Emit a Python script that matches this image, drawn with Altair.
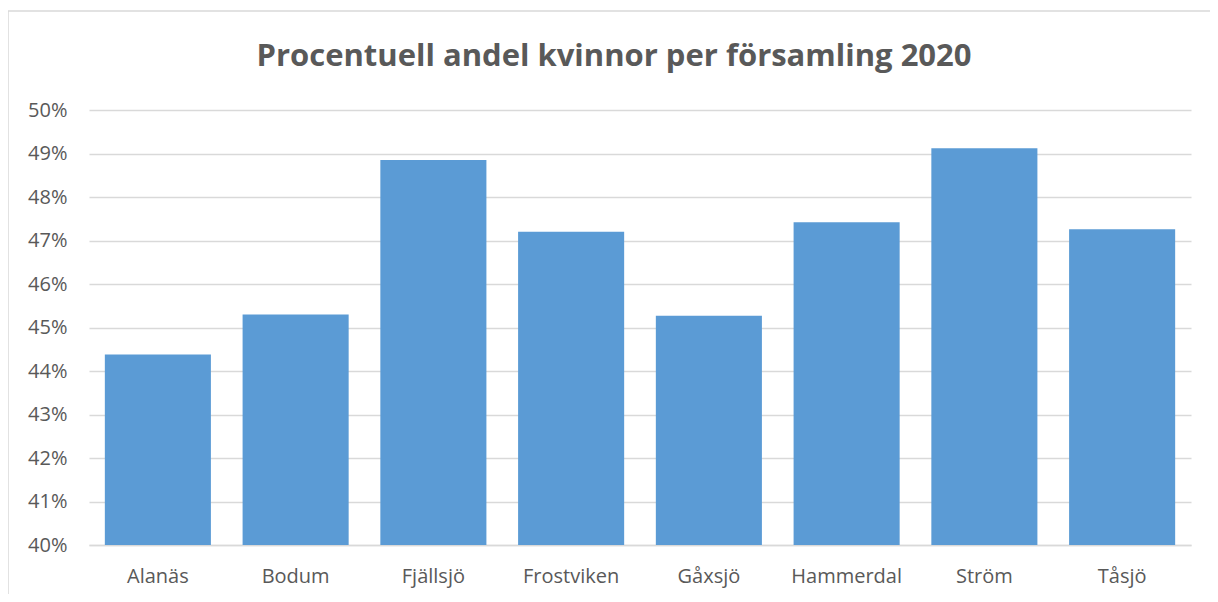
import altair as alt
import pandas as pd

categories = ["Alanäs", "Bodum", "Fjällsjö", "Frostviken", "Gåxsjö", "Hammerdal", "Ström", "Tåsjö"]
values = [0.4438, 0.4530, 0.4885, 0.4720, 0.4527, 0.4742, 0.4912, 0.4726]
tick_values = [0.40, 0.41, 0.42, 0.43, 0.44, 0.45, 0.46, 0.47, 0.48, 0.49, 0.50]
title_text = "Procentuell andel kvinnor per församling 2020"

df = pd.DataFrame({"Församling": categories, "Andel": values})

FONT = "Open Sans"
GREY = "#595959"

W, H = 1102, 435
LEFT, TOP = 81, 102
RIGHT = 1218 - 16 - LEFT - W
BOTTOM = 602 - 16 - TOP - H

bars = alt.Chart(df).mark_bar(color="#5b9bd5", clip=True).encode(
    x=alt.X("Församling:N", sort=categories, title=None,
            scale=alt.Scale(paddingInner=0.23, paddingOuter=0.115),
            axis=alt.Axis(labelAngle=0, labelFontSize=20, labelColor=GREY, labelFont=FONT,
                          domain=True, domainColor="#d9d9d9", domainWidth=1.5,
                          ticks=False, labelPadding=21)),
    y=alt.Y("Andel:Q", title=None,
            scale=alt.Scale(domain=[0.40, 0.50], nice=False, zero=False),
            axis=alt.Axis(values=tick_values, format=".0%", labelFontSize=20, labelColor=GREY,
                          labelFont=FONT, domain=False, ticks=False, labelPadding=22,
                          grid=True, gridColor="#d9d9d9", gridWidth=1.3)),
)

border = alt.Chart(pd.DataFrame({"a": [0]})).mark_rect(
    fill=None, stroke="#d9d9d9", strokeWidth=1.5
).encode(
    x=alt.value(-LEFT), x2=alt.value(1218 - 8 - LEFT + 10),
    y=alt.value(-99), y2=alt.value(602 - 8 - TOP + 10),
)

title = alt.Chart(pd.DataFrame({"t": [title_text]})).mark_text(
    font=FONT, fontSize=31, fontWeight="bold", color=GREY, align="center", baseline="alphabetic"
).encode(
    text="t:N", x=alt.value(W / 2 - 26), y=alt.value(-44),
)

chart = alt.layer(border, title, bars).properties(
    width=W, height=H,
    autosize=alt.AutoSizeParams(type="none"),
    padding={"left": LEFT, "top": TOP, "right": RIGHT, "bottom": BOTTOM},
).configure_view(stroke=None)

chart.save("out.html", embed_options={"renderer": "svg", "actions": False})
